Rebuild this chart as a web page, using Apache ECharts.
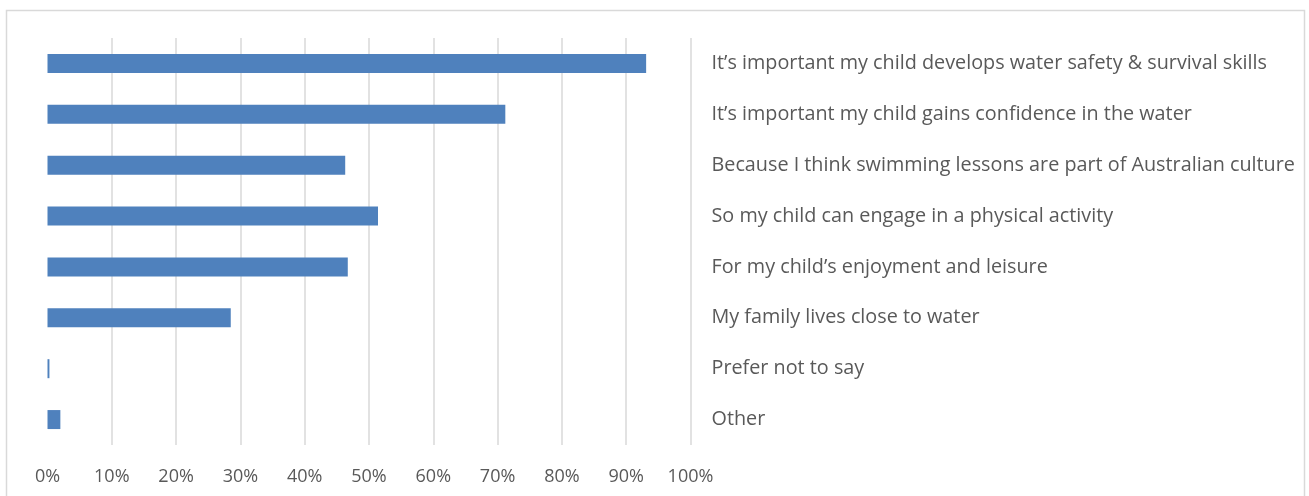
<!DOCTYPE html>
<html>
<head>
<meta charset="utf-8">
<script src="https://cdn.jsdelivr.net/npm/echarts@6/dist/echarts.min.js"></script>
<style>
  html, body { margin: 0; padding: 0; background: #fff; }
  #chart { width: 1309px; height: 496px; }
</style>
</head>
<body>
<div id="chart"></div>
<script>
// Reasons for enrolling a child in swimming lessons (share of respondents)
const reasons = [
  "It\u2019s important my child develops water safety & survival skills",
  "It\u2019s important my child gains confidence in the water",
  "Because I think swimming lessons are part of Australian culture",
  "So my child can engage in a physical activity",
  "For my child\u2019s enjoyment and leisure",
  "My family lives close to water",
  "Prefer not to say",
  "Other"
];
const shares = [0.931, 0.712, 0.463, 0.514, 0.467, 0.285, 0.003, 0.02];
const tickMin = 0;
const tickMax = 1;
const tickStep = 0.1;

const chart = echarts.init(document.getElementById('chart'));
const font = '"Open Sans", Lato, sans-serif';

chart.setOption({
  animation: false,
  graphic: [{
    type: 'rect',
    shape: { x: 6.5, y: 10.5, width: 1298, height: 490 },
    style: { fill: 'none', stroke: '#d9d9d9', lineWidth: 1.5 },
    silent: true
  }],
  grid: { left: 47.5, right: 618.5, top: 38, bottom: 51, containLabel: false },
  xAxis: {
    type: 'value',
    min: tickMin,
    max: tickMax,
    interval: tickStep,
    axisLine: { show: false },
    axisTick: { show: false },
    splitLine: { show: true, showMinLine: false, lineStyle: { color: '#d9d9d9', width: 1.5 } },
    axisLabel: {
      margin: 23,
      color: '#595959',
      fontFamily: font,
      fontSize: 18,
      formatter: v => Math.round(v * 100) + '%'
    }
  },
  yAxis: {
    type: 'category',
    data: reasons,
    inverse: true,
    position: 'right',
    axisLine: { show: false },
    axisTick: { show: false },
    splitLine: { show: false },
    axisLabel: {
      align: 'left',
      margin: 21,
      color: '#595959',
      fontFamily: font,
      fontSize: 19.8
    }
  },
  series: [{
    type: 'bar',
    data: shares,
    barWidth: 19,
    itemStyle: { color: '#4f81bd' }
  }]
});
</script>
</body>
</html>
